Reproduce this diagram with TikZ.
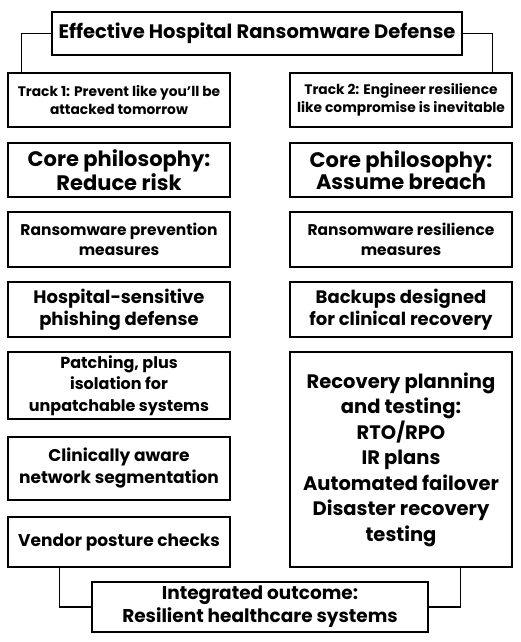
\documentclass[tikz,border=0pt]{standalone}
\usepackage{fontspec}
\setmainfont{Poppins}
\begin{document}
\begin{tikzpicture}[x=1pt, y=-1pt, line width=1.2pt,
	box/.style={draw, align=center, inner sep=0pt, minimum width=222pt},
	fs/.style args={#1/#2}{font=\bfseries\fontsize{#1}{#2}\selectfont}]
	\useasboundingbox (0,0) rectangle (520,642);
	\node[box, fs=19.5/23, minimum width=410pt, minimum height=43pt] (title) at (257,33.5) {Effective Hospital Ransomware Defense};
	% left track
	\node[box, fs=13.8/18, minimum height=54pt] (trackA) at (119,100) {Track 1: Prevent like you'll be\\attacked tomorrow};
	\node[box, fs=21/22, minimum height=54pt] (coreA) at (119,170) {Core philosophy:\\Reduce risk};
	\node[box, fs=15.5/20, minimum height=55pt] (measA) at (119,239.5) {Ransomware prevention\\measures};
	\node[box, fs=18/22, minimum height=55pt] (phish) at (119,309.5) {Hospital-sensitive\\phishing defense};
	\node[box, fs=16/21.5, minimum height=67pt] (patch) at (119,385.5) {Patching, plus\\isolation for\\unpatchable systems};
	\node[box, fs=17/22, minimum height=63pt] (segm) at (119,468.5) {Clinically aware\\network segmentation};
	\node[box, fs=17/22, minimum height=50pt] (vendor) at (119,542) {Vendor posture checks};
	% right track
	\node[box, fs=13.8/18, minimum height=54pt] (trackB) at (401,100) {Track 2: Engineer resilience\\like compromise is inevitable};
	\node[box, fs=21/22, minimum height=54pt] (coreB) at (401,170) {Core philosophy:\\Assume breach};
	\node[box, fs=15.5/20, minimum height=55pt] (measB) at (401,239.5) {Ransomware resilience\\measures};
	\node[box, fs=18/22, minimum height=55pt] (backup) at (401,309.5) {Backups designed\\for clinical recovery};
	\node[box, fs=19.5/25.5, minimum height=215pt] (recov) at (401,459.5) {Recovery planning\\and testing:\\RTO/RPO\\IR plans\\Automated failover\\Disaster recovery\\testing};
	\node[box, fs=18.5/23, minimum width=336pt, minimum height=50pt] (outcome) at (260,607) {Integrated outcome:\\Resilient healthcare systems};
	% connectors
	\draw (title.west) -| ([xshift=14pt]trackA.north west);
	\draw (title.east) -| ([xshift=-20pt]trackB.north east);
	\draw (outcome.west) -| ([xshift=52pt]vendor.south west);
	\draw (outcome.east) -| ([xshift=-52pt]recov.south east);
\end{tikzpicture}
\end{document}
